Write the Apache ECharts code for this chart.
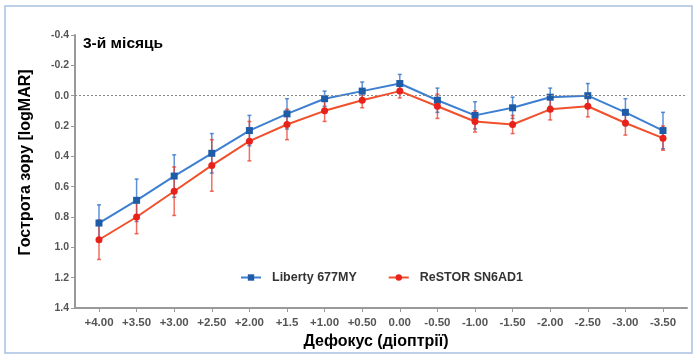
<!DOCTYPE html>
<html><head><meta charset="utf-8">
<script src="https://cdn.jsdelivr.net/npm/echarts@6/dist/echarts.min.js"></script>
<style>html,body{margin:0;padding:0;background:#fff}#c{width:697px;height:356px}</style>
</head><body><div id="c"></div>
<script>
var categories = ['+4.00','+3.50','+3.00','+2.50','+2.00','+1.5','+1.00','+0.50','0.00','-0.50','-1.00','-1.50','-2.00','-2.50','-3.00','-3.50'];
var libertyMean = [0.84,0.69,0.53,0.38,0.23,0.12,0.02,-0.03,-0.08,0.03,0.13,0.08,0.01,0.00,0.11,0.23];
var libertySD   = [0.12,0.14,0.14,0.13,0.10,0.10,0.05,0.06,0.06,0.08,0.09,0.07,0.06,0.08,0.09,0.12];
var restorMean  = [0.95,0.80,0.63,0.46,0.30,0.19,0.10,0.03,-0.03,0.07,0.17,0.19,0.09,0.07,0.18,0.28];
var restorSD    = [0.13,0.11,0.16,0.17,0.13,0.10,0.07,0.05,0.045,0.08,0.07,0.06,0.07,0.07,0.08,0.08];
var yTicks = [-0.4,-0.2,0.0,0.2,0.4,0.6,0.8,1.0,1.2,1.4];

var idx = categories.map(function(_, i){ return i; });
function pts(m){ return m.map(function(v,i){ return [i, v]; }); }
function errs(m,s){ return m.map(function(v,i){ return [i, v - s[i], v + s[i]]; }); }
function errSeries(id, data, color){
  return {
    type:'custom', name:id, data:data, z:3, silent:true,
    renderItem:function(params, api){
      var x = api.value(0);
      var lo = api.coord([x, api.value(1)]);
      var hi = api.coord([x, api.value(2)]);
      var w = 2;
      var st = {stroke:color, lineWidth:1.5};
      return {type:'group', children:[
        {type:'line', shape:{x1:lo[0],y1:lo[1],x2:hi[0],y2:hi[1]}, style:st},
        {type:'line', shape:{x1:lo[0]-w,y1:lo[1],x2:lo[0]+w,y2:lo[1]}, style:st},
        {type:'line', shape:{x1:hi[0]-w,y1:hi[1],x2:hi[0]+w,y2:hi[1]}, style:st}
      ]};
    }
  };
}

var chart = echarts.init(document.getElementById('c'), null, {renderer:'canvas'});
chart.setOption({
  animation:false,
  backgroundColor:'#fff',
  textStyle:{fontFamily:'Liberation Sans, Arial, sans-serif'},
  graphic:[
    {type:'rect', shape:{x:5,y:6,width:687,height:347}, style:{fill:'none', stroke:'#a9c0e2', lineWidth:1.5}, z:-1},
    {type:'text', left:83, top:36, style:{text:'3-й місяць', fontSize:15.5, fontWeight:'bold', fill:'#000', fontFamily:'Liberation Sans, Arial, sans-serif'}}
  ],
  legend:{
    left:235, top:266, itemGap:31, itemWidth:20, itemHeight:8,
    textStyle:{fontSize:12.5, fontWeight:'bold', color:'#333', padding:[0,0,0,6]},
    data:['Liberty 677MY','ReSTOR SN6AD1']
  },
  grid:{left:75, right:10, top:35, bottom:48, containLabel:false},
  xAxis:{
    type:'value', min:-0.638, max:15.638,
    name:'Дефокус (діоптрії)', nameLocation:'middle', nameGap:26,
    nameTextStyle:{fontSize:16, fontWeight:'bold', color:'#000', padding:[0,10,0,0]},
    axisLine:{onZero:false, lineStyle:{color:'#999', width:2}},
    axisTick:{show:true, customValues:idx, length:4, lineStyle:{color:'#999', width:1}},
    axisLabel:{customValues:idx, fontSize:11.5, fontWeight:'bold', color:'#555', margin:9,
      formatter:function(v){ return categories[Math.round(v)]; }},
    splitLine:{show:false}
  },
  yAxis:{
    type:'value', inverse:true, min:-0.4, max:1.4, interval:0.2,
    name:'Гострота зору [logMAR]', nameLocation:'middle', nameGap:41,
    nameTextStyle:{fontSize:16, fontWeight:'bold', color:'#000', padding:[0,0,0,18]},
    axisLine:{show:true, onZero:false, lineStyle:{color:'#999', width:2}},
    axisTick:{show:true, length:4, lineStyle:{color:'#999'}},
    axisLabel:{fontSize:10.5, fontWeight:'bold', color:'#555', margin:6,
      formatter:function(v){ return (Math.abs(v)<1e-9?0:v).toFixed(1); }},
    splitLine:{show:false}
  },
  series:[
    {
      type:'line', name:'Liberty 677MY', data:pts(libertyMean), z:4,
      symbol:'rect', symbolSize:7,
      lineStyle:{color:'#3d7fd0', width:2},
      itemStyle:{color:'#1f5ca8'},
      markLine:{silent:true, symbol:'none', label:{show:false},
        lineStyle:{color:'#888', type:[2,2], width:1.2},
        data:[{yAxis:0}]}
    },
    {
      type:'line', name:'ReSTOR SN6AD1', data:pts(restorMean), z:5,
      symbol:'circle', symbolSize:7,
      lineStyle:{color:'#f0502c', width:2},
      itemStyle:{color:'#e8221a'}
    },
    errSeries('errLiberty', errs(libertyMean, libertySD), 'rgba(40,110,200,0.75)'),
    errSeries('errRestor', errs(restorMean, restorSD), 'rgba(235,50,30,0.7)')
  ]
});
</script></body></html>
